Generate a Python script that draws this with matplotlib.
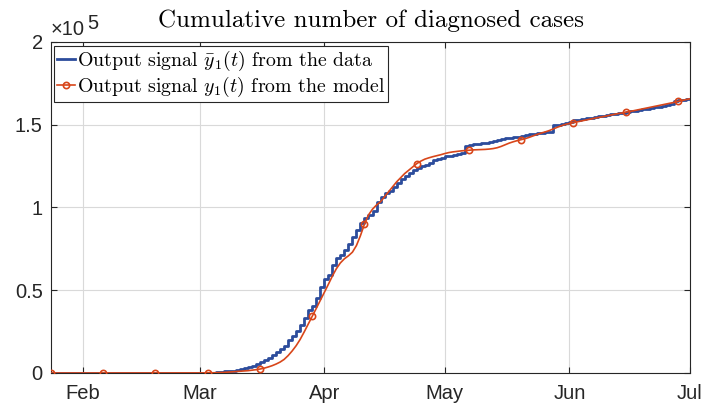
import numpy as np
import matplotlib
matplotlib.use("Agg")
import matplotlib.pyplot as plt
import matplotlib.dates as mdates
from matplotlib.ticker import FixedLocator, FuncFormatter
import datetime as dt

plt.rcParams['mathtext.fontset'] = 'cm'
plt.rcParams['axes.formatter.use_mathtext'] = False

# ---- data (thousands of cases), daily from 24 Jan 2020 to 1 Jul 2020 ----
start_date = dt.date(2020, 1, 24)

data_jan = [0.003, 0.003, 0.003, 0.003, 0.004, 0.005, 0.005, 0.006]
data_feb = [0.006] * 11 + [0.011] * 14 + [0.018, 0.038, 0.057, 0.100]
data_mar = [0.13, 0.19, 0.21, 0.29, 0.38, 0.65, 0.95, 1.13, 1.41, 1.78, 2.28,
            2.88, 3.66, 4.50, 5.42, 6.63, 7.70, 9.11, 10.90, 12.61, 14.29,
            16.24, 19.86, 22.62, 25.60, 29.16, 33.40, 38.11, 40.71, 45.17, 52.13]
data_apr = [56.99, 59.11, 65.20, 69.50, 71.41, 74.39, 78.17, 82.05, 86.33, 90.68,
            93.79, 95.40, 98.08, 103.57, 106.21, 108.85, 110.05, 112.61, 114.66,
            117.32, 119.15, 120.80, 122.58, 124.11, 124.90, 125.84, 126.83,
            128.44, 129.58, 130.19]
data_may = [130.98, 131.29, 131.86, 132.27, 132.97, 137.15, 137.78, 138.16, 138.42,
            138.85, 139.06, 139.52, 140.23, 140.73, 141.36, 141.92, 142.29, 142.41,
            142.90, 143.43, 143.85, 144.16, 144.56, 144.81, 145.28, 145.56, 145.75,
            149.67, 149.91, 150.32, 150.78]
data_jun = [151.5, 152.8, 153.1, 153.5, 153.9, 154.3, 154.6, 155.0, 155.4, 155.8,
            156.2, 156.6, 157.0, 157.4, 157.8, 158.2, 158.6, 159.0, 159.4, 159.8,
            160.2, 160.6, 161.0, 161.5, 162.0, 162.6, 164.6, 164.9, 165.1, 165.4]
data_jul = [165.7]

model_jan = [0.0] * 8
model_feb = [0.0] * 29
model_mar = [0.03, 0.05, 0.08, 0.12, 0.17, 0.25, 0.35, 0.5, 0.7, 0.9, 1.05, 1.2,
             1.4, 1.7, 2.0, 2.4, 2.9, 3.6, 4.4, 5.4, 6.6, 8.2, 10.5, 13.3, 16.5,
             20.3, 24.8, 29.5, 34.3, 39.0, 43.8]
model_apr = [48.5, 53.5, 58.5, 63.0, 66.5, 69.0, 70.8, 73.0, 77.0, 83.0, 90.0,
             95.5, 99.0, 101.5, 103.5, 106.5, 109.5, 112.5, 115.5, 118.0, 120.5,
             122.5, 124.5, 126.5, 128.0, 129.2, 130.0, 130.7, 131.3, 131.9]
model_may = [132.6, 133.2, 133.6, 133.9, 134.2, 134.4, 134.6, 134.8, 134.9, 135.0,
             135.1, 135.3, 135.6, 136.1, 136.9, 137.9, 138.9, 139.7, 140.4, 141.0,
             141.6, 142.4, 143.3, 144.2, 145.0, 145.7, 146.5, 147.5, 148.5, 149.4,
             150.2]
model_jun = [150.8, 151.3, 151.8, 152.3, 152.8, 153.3, 153.8, 154.3, 154.7, 155.2,
             155.7, 156.2, 156.7, 157.1, 157.6, 158.0, 158.5, 159.0, 159.5, 160.0,
             160.5, 161.0, 161.5, 162.0, 162.5, 163.0, 163.5, 164.1, 164.7, 165.2]
model_jul = [165.7]

month_ticks = ["Feb", "Mar", "Apr", "May", "Jun", "Jul"]
y_tick_labels = ["0", "0.5", "1", "1.5", "2"]

data_k = np.array(data_jan + data_feb + data_mar + data_apr + data_may + data_jun + data_jul)
model_k = np.array(model_jan + model_feb + model_mar + model_apr + model_may + model_jun + model_jul)
dates = [start_date + dt.timedelta(days=i) for i in range(len(data_k))]

# ---- figure ----
fig = plt.figure(figsize=(7.08, 4.12), dpi=100)
ax = fig.add_axes([51 / 708, 39 / 412, 639 / 708, 331 / 412])

blue = '#2c4c9c'
red = '#d8461a'
dark = '#262626'

ax.step(dates, data_k * 1e3, where='post', color=blue, lw=2.0,
        label=r'Output signal $\bar{y}_1(t)$ from the data', zorder=3)
ax.plot(dates, model_k * 1e3, color=red, lw=1.2, marker='o', markersize=4.5,
        markerfacecolor='none', markeredgewidth=1.2, markevery=13,
        label=r'Output signal $y_1(t)$ from the model', zorder=4)

ax.set_xlim(dates[0], dates[-1])
ax.set_ylim(0, 2e5)
ax.xaxis.set_major_locator(mdates.MonthLocator())
ax.xaxis.set_major_formatter(FuncFormatter(lambda v, p: month_ticks[mdates.num2date(v).month - 2]))
ax.yaxis.set_major_locator(FixedLocator([0, 0.5e5, 1e5, 1.5e5, 2e5]))
ax.yaxis.set_major_formatter(FuncFormatter(lambda v, p: y_tick_labels[int(round(v / 0.5e5))]))

ax.grid(True, color='#d9d9d9', lw=0.8)
ax.set_axisbelow(True)
for s in ax.spines.values():
    s.set_color(dark)
    s.set_linewidth(0.8)
ax.tick_params(direction='in', length=4, width=0.8, color=dark,
               top=True, right=True, labelsize=14.5, labelcolor=dark)
ax.tick_params(axis='x', pad=8)
ax.tick_params(axis='y', pad=6)
for lbl in ax.get_xticklabels() + ax.get_yticklabels():
    lbl.set_fontfamily('Liberation Sans')

ax.text(0.0, 1 + 7 / 331, '×10', transform=ax.transAxes, ha='left', va='baseline',
        fontsize=14.5, color=dark, family='Liberation Sans')
ax.text(36 / 639, 1 + 13 / 331, '5', transform=ax.transAxes, ha='left', va='baseline',
        fontsize=14.5, color=dark, family='Liberation Sans')

ax.text(0.5, 1 + 15 / 331, 'Cumulative number of diagnosed cases', transform=ax.transAxes,
        ha='center', va='baseline', fontsize=18, family='cmr10', color='black')

leg = ax.legend(loc='upper left', bbox_to_anchor=(3 / 639, 1 - 4 / 331), borderaxespad=0,
                handlelength=0.9, handletextpad=0.1, borderpad=0.15,
                labelspacing=0.1, fancybox=False, framealpha=1,
                edgecolor=dark, prop={'family': 'cmr10', 'size': 14.3})
leg.get_frame().set_linewidth(0.8)

fig.savefig('out.png', dpi=100)
